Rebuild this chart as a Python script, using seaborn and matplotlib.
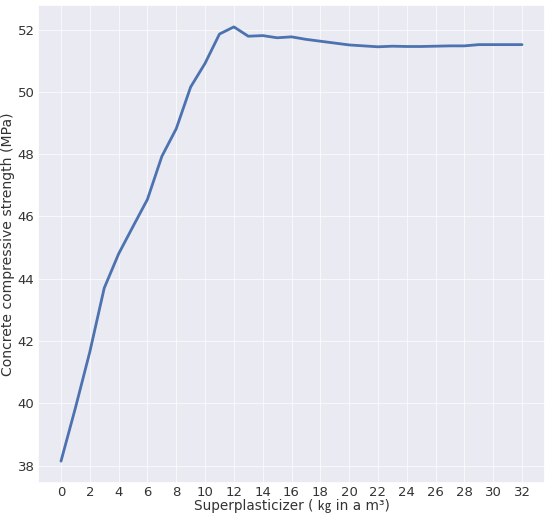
import matplotlib
matplotlib.use("Agg")
import matplotlib.pyplot as plt
import seaborn as sns
import pandas as pd

superplasticizer = list(range(0, 33))
strength = [38.14, 39.85, 41.65, 43.70, 44.80, 45.68, 46.55, 47.93, 48.82, 50.16,
            50.92, 51.86, 52.09, 51.79, 51.81, 51.74, 51.77, 51.69, 51.63, 51.57,
            51.51, 51.48, 51.45, 51.47, 51.46, 51.46, 51.47, 51.48, 51.48, 51.52,
            51.52, 51.52, 51.52]
x_ticks = list(range(0, 33, 2))
y_ticks = list(range(38, 53, 2))

df = pd.DataFrame({"x": superplasticizer, "y": strength})

sns.set_theme(style="darkgrid")
fig, ax = plt.subplots(figsize=(5.5, 5.17), dpi=100)
fig.subplots_adjust(left=0.069, right=0.991, top=0.990, bottom=0.066)

sns.lineplot(data=df, x="x", y="y", ax=ax, color="#4C72B0", linewidth=2)

ax.set_xticks(x_ticks)
ax.set_yticks(y_ticks)
ax.tick_params(labelsize=9.5, length=0, pad=2.5, colors="#333333")
ax.grid(color="white", linewidth=0.6, alpha=0.8)
ax.set_xlabel("Superplasticizer ( ㎏ in a m³)", fontsize=9.8, labelpad=0,
              color="#333333", family=["DejaVu Sans", "Noto Sans CJK SC"])
ax.set_ylabel("Concrete compressive strength (MPa)", fontsize=10.1, labelpad=2,
              color="#333333")

fig.savefig("out.png", dpi=100)
